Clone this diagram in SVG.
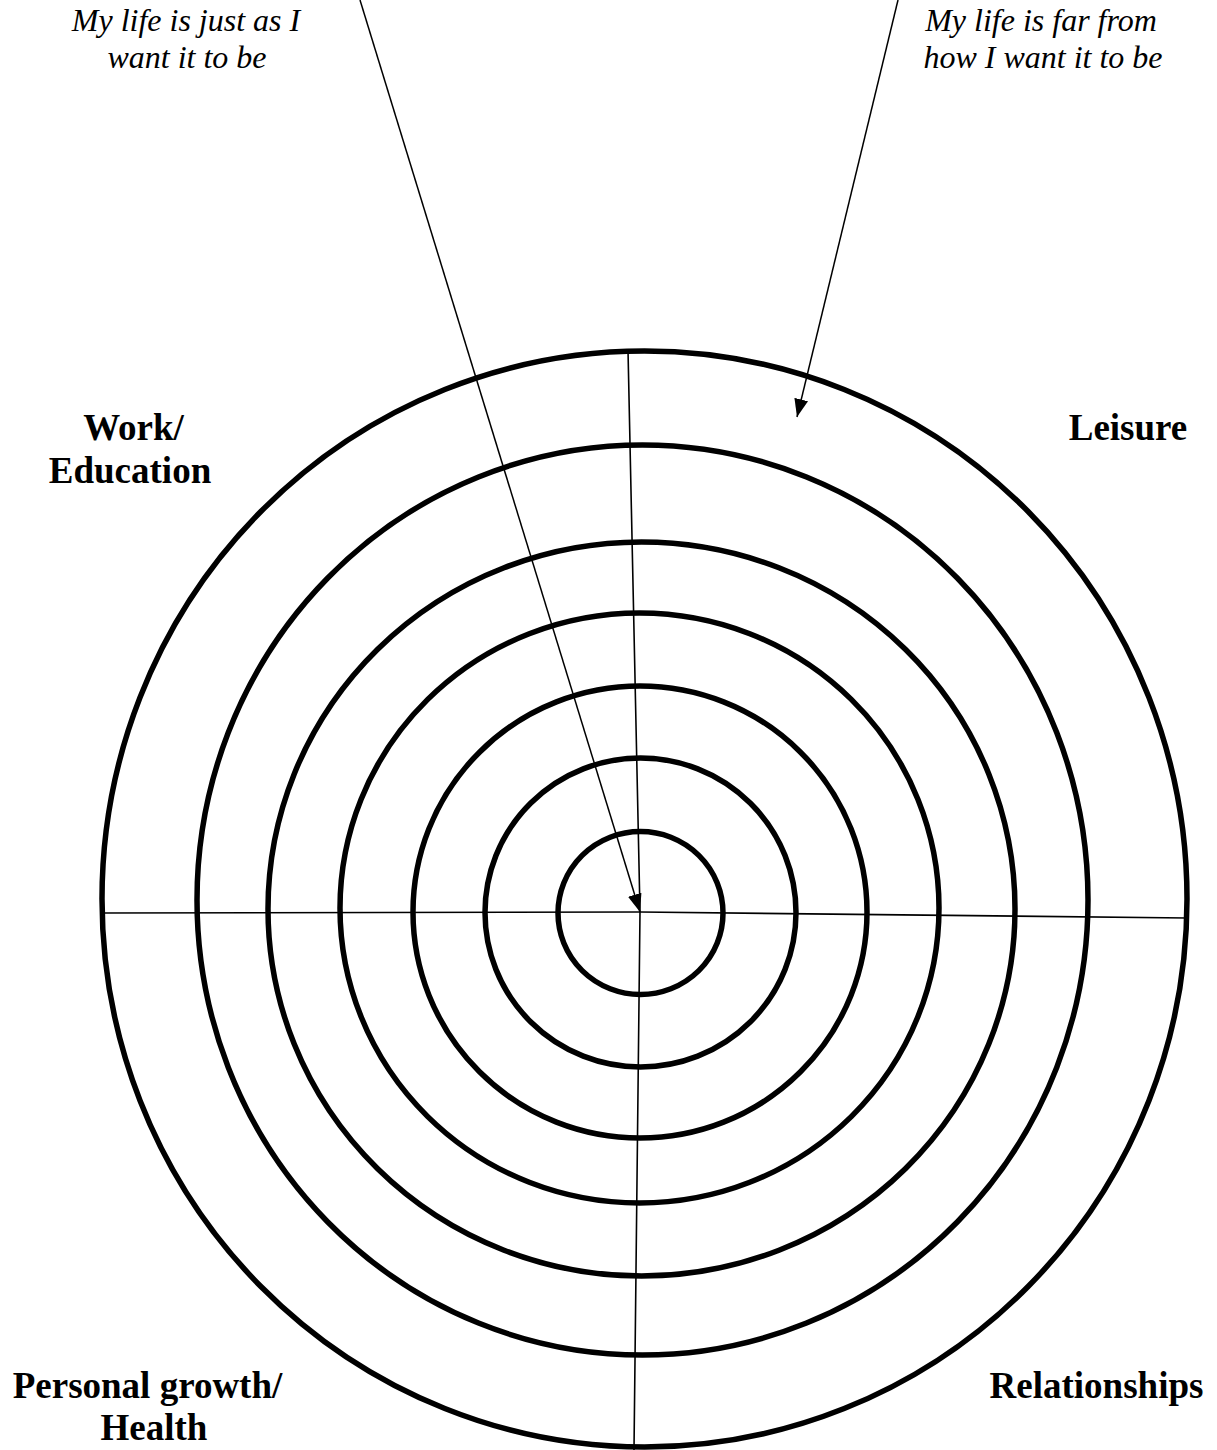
<svg xmlns="http://www.w3.org/2000/svg" width="1217" height="1450" viewBox="0 0 1217 1450">
<style>
.ring{fill:none;stroke:#000;stroke-width:5.5}
.ax{stroke:#000;stroke-width:1.6;fill:none}
.arr{stroke:#000;stroke-width:1.5;fill:none}
.it{font-family:"Liberation Serif",serif;font-style:italic;font-size:32px;text-anchor:middle;fill:#000}
.bd{font-family:"Liberation Serif",serif;font-weight:bold;font-size:37px;text-anchor:middle;fill:#000}
</style>
<defs>
<marker id="ah" viewBox="0 0 18 14" refX="18" refY="7" markerWidth="18" markerHeight="14" markerUnits="userSpaceOnUse" orient="auto">
<path d="M0,0 L18,7 L0,14 z" fill="#000"/>
</marker>
</defs>
<rect width="1217" height="1450" fill="#fff"/>
<g id="rings">
<ellipse class="ring" cx="644.5" cy="899" rx="542.5" ry="548"/>
<ellipse class="ring" cx="642.5" cy="900" rx="445.5" ry="455"/>
<ellipse class="ring" cx="641.5" cy="909" rx="373.5" ry="367"/>
<ellipse class="ring" cx="639.5" cy="908" rx="299.5" ry="295"/>
<ellipse class="ring" cx="640" cy="912" rx="227" ry="226"/>
<ellipse class="ring" cx="640.5" cy="912.5" rx="155.5" ry="154.5"/>
<ellipse class="ring" cx="640.5" cy="913" rx="82.5" ry="81.5"/>
</g>
<g id="connectors">
<polyline class="ax" points="628,350 640,912 634,1450"/>
<polyline class="ax" points="102,913 640,912 1187,918"/>
<line class="arr" x1="360" y1="0" x2="640" y2="912" marker-end="url(#ah)"/>
<line class="arr" x1="898" y1="0" x2="797" y2="417" marker-end="url(#ah)"/>
</g>
<g id="label-just">
<text class="it" x="186" y="31">My life is just as I</text>
<text class="it" x="187" y="68">want it to be</text>
</g>
<g id="label-far">
<text class="it" x="1041" y="31">My life is far from</text>
<text class="it" x="1043" y="68">how I want it to be</text>
</g>
<g id="work">
<text class="bd" x="133.5" y="440">Work/</text>
<text class="bd" x="130" y="483">Education</text>
</g>
<g id="leisure">
<text class="bd" x="1128" y="440">Leisure</text>
</g>
<g id="personal">
<text class="bd" x="147.5" y="1398">Personal growth/</text>
<text class="bd" x="154" y="1440">Health</text>
</g>
<g id="relationships">
<text class="bd" x="1096.5" y="1398">Relationships</text>
</g>
</svg>
